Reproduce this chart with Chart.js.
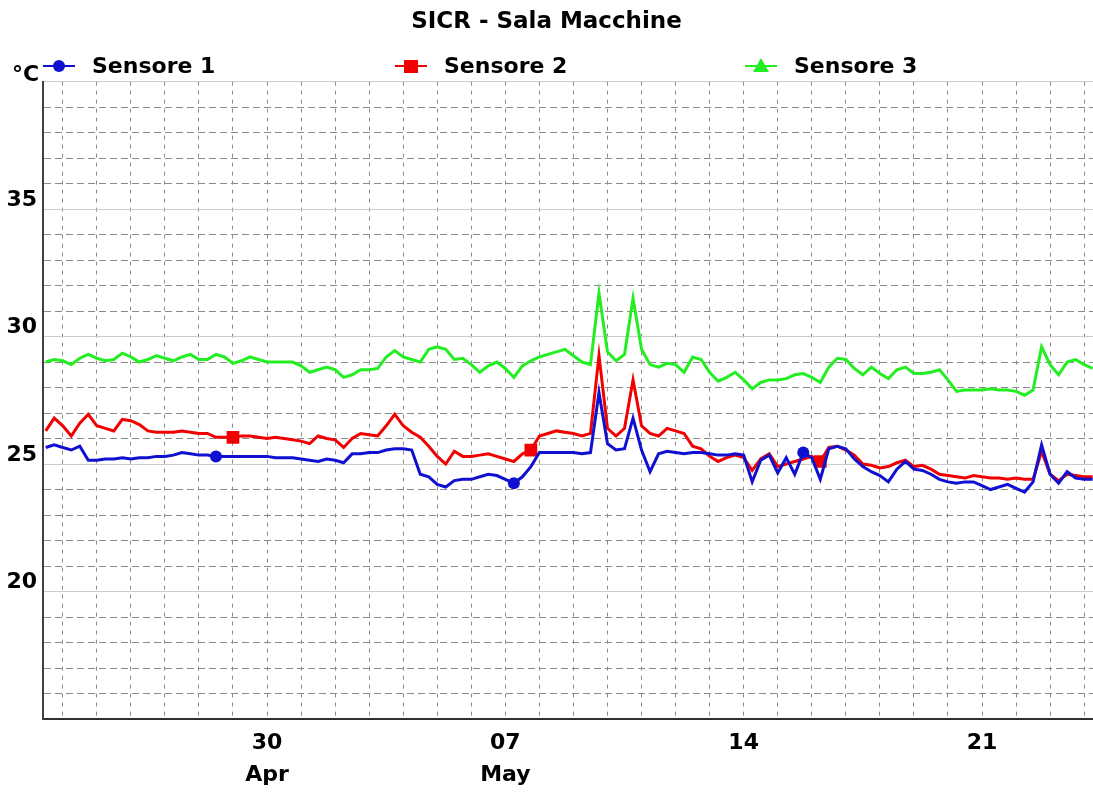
<!DOCTYPE html>
<html>
<head>
<meta charset="utf-8">
<title>SICR - Sala Macchine</title>
<script src="https://cdn.jsdelivr.net/npm/chart.js@4"></script>
<style>
  html, body { margin: 0; padding: 0; background: #fff; }
  #wrap { width: 1093px; height: 792px; position: relative; }
</style>
</head>
<body>
<div id="wrap"><canvas id="chartCanvas"></canvas></div>
<script>
// sample times, in days from 30 Apr 00:00
const days = [
  -6.5, -6.25, -6, -5.75, -5.5, -5.25, -5, -4.75, -4.5, -4.25, -4, -3.75, -3.5, -3.25, -3, -2.75,
  -2.5, -2.25, -2, -1.75, -1.5, -1.25, -1, -0.75, -0.5, -0.25, 0, 0.25, 0.5, 0.75, 1, 1.25,
  1.5, 1.75, 2, 2.25, 2.5, 2.75, 3, 3.25, 3.5, 3.75, 4, 4.25, 4.5, 4.75, 5, 5.25,
  5.5, 5.75, 6, 6.25, 6.5, 6.75, 7, 7.25, 7.5, 7.75, 8, 8.25, 8.5, 8.75, 9, 9.25,
  9.5, 9.75, 10, 10.25, 10.5, 10.75, 11, 11.25, 11.5, 11.75, 12, 12.25, 12.5, 12.75, 13, 13.25,
  13.5, 13.75, 14, 14.25, 14.5, 14.75, 15, 15.25, 15.5, 15.75, 16, 16.25, 16.5, 16.75, 17, 17.25,
  17.5, 17.75, 18, 18.25, 18.5, 18.75, 19, 19.25, 19.5, 19.75, 20, 20.25, 20.5, 20.75, 21, 21.25,
  21.5, 21.75, 22, 22.25, 22.5, 22.75, 23, 23.25, 23.5, 23.75, 24, 24.25
];

const sensore1 = [
  25.65, 25.75, 25.65, 25.55, 25.7, 25.15, 25.15, 25.2, 25.2, 25.25, 25.2, 25.25, 25.25, 25.3, 25.3, 25.35,
  25.45, 25.4, 25.35, 25.35, 25.3, 25.3, 25.3, 25.3, 25.3, 25.3, 25.3, 25.25, 25.25, 25.25, 25.2, 25.15,
  25.1, 25.2, 25.15, 25.05, 25.4, 25.4, 25.45, 25.45, 25.55, 25.6, 25.6, 25.55, 24.6, 24.5, 24.2, 24.1,
  24.35, 24.4, 24.4, 24.5, 24.6, 24.55, 24.4, 24.25, 24.5, 24.9, 25.45, 25.45, 25.45, 25.45, 25.45, 25.4,
  25.45, 27.8, 25.8, 25.55, 25.6, 26.8, 25.55, 24.7, 25.4, 25.5, 25.45, 25.4, 25.45, 25.45, 25.4, 25.35,
  25.35, 25.4, 25.35, 24.3, 25.15, 25.35, 24.65, 25.25, 24.6, 25.45, 25.25, 24.4, 25.6, 25.7, 25.6, 25.2,
  24.9, 24.7, 24.55, 24.3, 24.8, 25.1, 24.8, 24.75, 24.6, 24.4, 24.3, 24.25, 24.3, 24.3, 24.15, 24.0,
  24.1, 24.2, 24.05, 23.9, 24.3, 25.75, 24.6, 24.25, 24.7, 24.45, 24.4, 24.4
];

const sensore2 = [
  26.3, 26.8, 26.5, 26.1, 26.6, 26.95, 26.5, 26.4, 26.3, 26.75, 26.7, 26.55, 26.3, 26.25, 26.25, 26.25,
  26.3, 26.25, 26.2, 26.2, 26.05, 26.05, 26.05, 26.1, 26.1, 26.05, 26.0, 26.05, 26.0, 25.95, 25.9, 25.8,
  26.1, 26.0, 25.95, 25.65, 26.0, 26.2, 26.15, 26.1, 26.5, 26.95, 26.5, 26.25, 26.05, 25.7, 25.3, 25.0,
  25.5, 25.3, 25.3, 25.35, 25.4, 25.3, 25.2, 25.1, 25.4, 25.55, 26.1, 26.2, 26.3, 26.25, 26.2, 26.1,
  26.2, 29.25, 26.4, 26.1, 26.4, 28.3, 26.5, 26.2, 26.1, 26.4, 26.3, 26.2, 25.7, 25.6, 25.3, 25.1,
  25.25, 25.35, 25.25, 24.75, 25.2, 25.4, 24.9, 25.0, 25.1, 25.2, 25.3, 25.1, 25.65, 25.7, 25.55, 25.35,
  25.0, 24.95, 24.85, 24.9, 25.05, 25.15, 24.9, 24.95, 24.8, 24.6, 24.55, 24.5, 24.45, 24.55, 24.5, 24.45,
  24.45, 24.4, 24.45, 24.4, 24.4, 25.5, 24.6, 24.35, 24.6, 24.55, 24.5, 24.5
];

const sensore3 = [
  29.0, 29.1, 29.05, 28.9, 29.15, 29.3, 29.15, 29.05, 29.1, 29.35, 29.2, 29.0, 29.1, 29.25, 29.15, 29.05,
  29.2, 29.3, 29.1, 29.1, 29.3, 29.2, 28.95, 29.05, 29.2, 29.1, 29.0, 29.0, 29.0, 29.0, 28.85, 28.6,
  28.7, 28.8, 28.7, 28.4, 28.5, 28.7, 28.7, 28.75, 29.2, 29.45, 29.2, 29.1, 29.0, 29.5, 29.6, 29.5,
  29.1, 29.15, 28.9, 28.6, 28.85, 29.0, 28.75, 28.4, 28.85, 29.05, 29.2, 29.3, 29.4, 29.5, 29.25, 29.0,
  28.9, 31.7, 29.4, 29.05, 29.3, 31.5, 29.5, 28.9, 28.8, 28.95, 28.9, 28.6, 29.2, 29.1, 28.6, 28.25,
  28.4, 28.6, 28.3, 27.95, 28.2, 28.3, 28.3, 28.35, 28.5, 28.55, 28.4, 28.2, 28.8, 29.15, 29.1, 28.75,
  28.5, 28.8, 28.55, 28.35, 28.7, 28.8, 28.55, 28.55, 28.6, 28.7, 28.3, 27.85, 27.9, 27.9, 27.9, 27.95,
  27.9, 27.9, 27.85, 27.7, 27.9, 29.6, 28.9, 28.5, 29.0, 29.1, 28.9, 28.75
];

// days where the sensor markers sit on the lines
const marks1 = [-1.5, 7.25, 15.75];
const marks2 = [-1, 7.75, 16.25];

const seriesNames = ['Sensore 1', 'Sensore 2', 'Sensore 3'];
const weekTicks = [0, 7, 14, 21];
const weekLabels = [['30', 'Apr'], ['07', 'May'], ['14'], ['21']];
const yLabels = [20, 25, 30, 35];

const colors = ['#1010d0', '#f00000', '#22ee22'];
const FONT = 'DejaVu Sans';

function points(values) {
  return values.map((v, i) => ({ x: days[i], y: v }));
}

function markRadius(marks, r) {
  return ctx => marks.includes(days[ctx.dataIndex]) ? r : 0;
}

// legend row + unit label, drawn like the original
const legendPlugin = {
  id: 'sensorLegend',
  afterDraw(chart) {
    const ctx = chart.ctx;
    const starts = [43, 395, 745];
    const y = 66;
    ctx.save();
    seriesNames.forEach((name, i) => {
      const x = starts[i];
      ctx.strokeStyle = colors[i];
      ctx.fillStyle = colors[i];
      ctx.lineWidth = 2;
      ctx.beginPath();
      ctx.moveTo(x, y);
      ctx.lineTo(x + 32, y);
      ctx.stroke();
      const cx = x + 16;
      ctx.beginPath();
      if (i === 0) {
        ctx.arc(cx, y, 6, 0, Math.PI * 2);
      } else if (i === 1) {
        ctx.rect(cx - 7, y - 6, 14, 13);
      } else {
        ctx.moveTo(cx, y - 8);
        ctx.lineTo(cx + 8, y + 6);
        ctx.lineTo(cx - 8, y + 6);
        ctx.closePath();
      }
      ctx.fill();
      ctx.fillStyle = '#000';
      ctx.font = 'bold 22px "' + FONT + '"';
      ctx.textAlign = 'left';
      ctx.textBaseline = 'middle';
      ctx.fillText(name, x + 49, y + 1);
    });
    ctx.font = 'bold 22px "' + FONT + '"';
    ctx.textBaseline = 'alphabetic';
    ctx.fillText('°C', 12, 81);
    ctx.restore();
  }
};

Chart.defaults.font.family = FONT;
Chart.defaults.color = '#000';

new Chart(document.getElementById('chartCanvas'), {
  type: 'line',
  data: {
    datasets: [
      {
        label: seriesNames[0], data: points(sensore1), borderColor: colors[0], backgroundColor: colors[0],
        borderWidth: 3, pointStyle: 'circle', pointRadius: markRadius(marks1, 6), pointBorderWidth: 0
      },
      {
        label: seriesNames[1], data: points(sensore2), borderColor: colors[1], backgroundColor: colors[1],
        borderWidth: 3, pointStyle: 'rect', pointRadius: markRadius(marks2, 9), pointBorderWidth: 0
      },
      {
        label: seriesNames[2], data: points(sensore3), borderColor: colors[2], backgroundColor: colors[2],
        borderWidth: 3, pointRadius: 0
      }
    ]
  },
  options: {
    responsive: true,
    maintainAspectRatio: false,
    animation: false,
    layout: { padding: { top: 0, right: 0, bottom: 0, left: 0 } },
    plugins: {
      legend: { display: false },
      tooltip: { enabled: false },
      title: {
        display: true,
        text: 'SICR - Sala Macchine',
        color: '#000',
        font: { family: FONT, size: 23, weight: 'bold', lineHeight: 1.2 },
        padding: { top: 8, bottom: 46 }
      }
    },
    scales: {
      x: {
        type: 'linear',
        min: -6.58,
        max: 24.26,
        afterBuildTicks(scale) {
          const t = [];
          for (let d = -6; d <= 24; d++) t.push({ value: d });
          scale.ticks = t;
        },
        afterFit(scale) { scale.height = 73; },
        grid: { color: '#8a8a8a', lineWidth: 1, drawTicks: false },
        border: { display: true, color: '#303030', width: 2, dash: [4, 5] },
        ticks: {
          autoSkip: false,
          maxRotation: 0,
          padding: 8,
          color: '#000',
          font: { family: FONT, size: 22, weight: 'bold', lineHeight: 1.45 },
          callback(value) {
            const i = weekTicks.indexOf(value);
            return i >= 0 ? weekLabels[i] : '';
          }
        }
      },
      y: {
        min: 15,
        max: 40,
        afterFit(scale) { scale.width = 43; },
        grid: {
          color: ctx => (ctx.tick && ctx.tick.value % 5 === 0) ? 'rgba(0,0,0,0)' : '#8a8a8a',
          lineWidth: 1,
          drawTicks: false
        },
        border: { display: true, color: '#404040', width: 2, dash: [7, 4] },
        ticks: {
          stepSize: 1,
          autoSkip: false,
          padding: 6,
          labelOffset: -9,
          color: '#000',
          font: { family: FONT, size: 22, weight: 'bold' },
          callback: value => yLabels.includes(value) ? String(value) : ''
        }
      },
      y5: {
        position: 'left',
        min: 15,
        max: 40,
        afterFit(scale) { scale.width = 0; },
        grid: { color: '#cccccc', lineWidth: 1, drawTicks: false },
        border: { display: false },
        ticks: { display: false, stepSize: 5 }
      }
    }
  },
  plugins: [legendPlugin]
});
</script>
</body>
</html>
